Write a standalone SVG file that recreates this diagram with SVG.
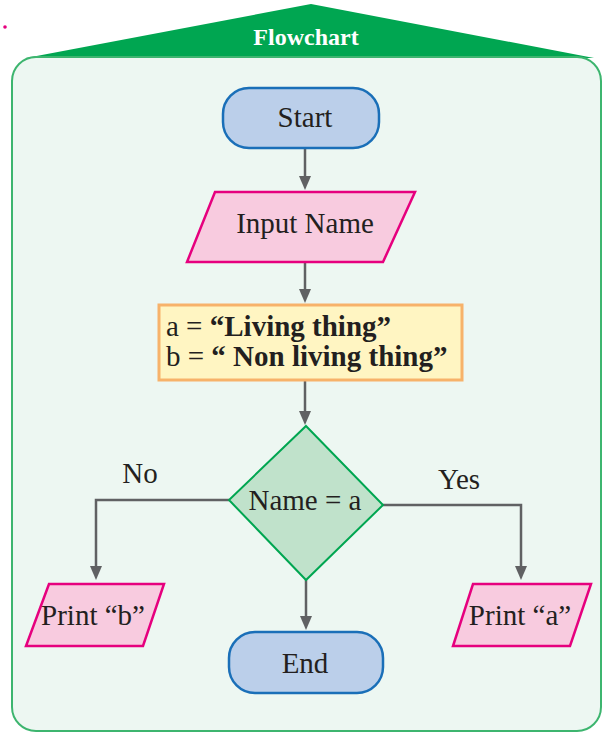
<svg xmlns="http://www.w3.org/2000/svg" width="603" height="732" viewBox="0 0 603 732">
<style>
text{font-family:"Liberation Serif","Times New Roman",serif;fill:#231F20;font-size:29px}
.c{text-anchor:middle}
.b{font-weight:bold}
.term{fill:#BBCFEA;stroke:#1A6FB8;stroke-width:2.5}
.io{fill:#F8CBDF;stroke:#E6007E;stroke-width:2.5}
.proc{fill:#FFF5C2;stroke:#F7B26A;stroke-width:3}
.dec{fill:#C0E2CB;stroke:#00A651;stroke-width:2}
.ln{fill:none;stroke:#606163;stroke-width:2.5}
.ah{fill:#606163}
</style>
<circle cx="5" cy="27" r="1.8" fill="#E6007E"/>
<g id="frame">
<polygon points="311,4 26,58 594,58" fill="#00A651"/>
<rect x="12" y="57" width="589" height="674" rx="24" ry="24" fill="#EDF7F2" stroke="#3DB56F" stroke-width="2"/>
<text class="c b" x="306" y="45" style="fill:#FFFFFF;font-size:24px">Flowchart</text>
</g>
<g id="connectors">
<path class="ln" d="M305,149 V177"/>
<path class="ah" d="M299,176 L311,176 L305,190 Z"/>
<path class="ln" d="M305,262 V290"/>
<path class="ah" d="M299,289 L311,289 L305,303 Z"/>
<path class="ln" d="M305,381 V412"/>
<path class="ah" d="M299,411 L311,411 L305,425 Z"/>
<path class="ln" d="M229,500 H96 V567"/>
<path class="ah" d="M90,566 L102,566 L96,580 Z"/>
<path class="ln" d="M383,505 H521 V567"/>
<path class="ah" d="M515,566 L527,566 L521,580 Z"/>
<path class="ln" d="M306,580 V617"/>
<path class="ah" d="M300,616 L312,616 L306,630 Z"/>
<text class="c" x="140" y="483">No</text>
<text class="c" x="459" y="489">Yes</text>
</g>
<g id="start">
<rect class="term" x="223" y="88" width="156" height="60" rx="26" ry="26"/>
<text class="c" x="305" y="127">Start</text>
</g>
<g id="input">
<polygon class="io" points="215,192 415,192 383,262 187,262"/>
<text class="c" x="305" y="233">Input Name</text>
</g>
<g id="assign">
<rect class="proc" x="159" y="305" width="303" height="75"/>
<text x="166" y="336">a = <tspan class="b">“Living thing”</tspan></text>
<text x="166" y="366">b = <tspan class="b">“ Non living thing”</tspan></text>
</g>
<g id="decision">
<polygon class="dec" points="306,426 383,505 306,580 229,500"/>
<text class="c" x="305" y="510">Name = a</text>
</g>
<g id="printb">
<polygon class="io" points="49,584 164,584 143,646 26,646"/>
<text class="c" x="93" y="625">Print “b”</text>
</g>
<g id="printa">
<polygon class="io" points="473,584 591,584 570,646 453,646"/>
<text class="c" x="520" y="625">Print “a”</text>
</g>
<g id="end">
<rect class="term" x="229" y="632" width="154" height="61" rx="26" ry="26"/>
<text class="c" x="305" y="673">End</text>
</g>
</svg>
